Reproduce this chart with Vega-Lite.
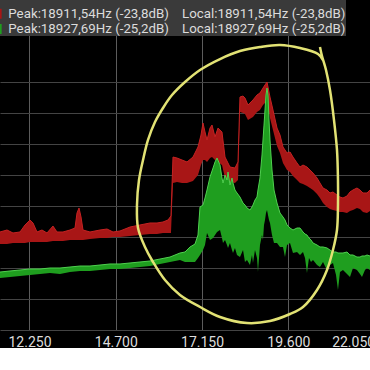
{
  "$schema": "https://vega.github.io/schema/vega-lite/v6.json",
  "width": 370,
  "height": 330,
  "autosize": {"type": "none"},
  "padding": {"left": 0, "top": 0, "right": 0, "bottom": 18},
  "background": "#000000",
  "config": {"view": {"stroke": null}, "font": "Roboto"},
  "datasets": {
    "spec": [
      {"s":"a","f":11413,"t":-49.19,"b":-51.13},
      {"s":"a","f":11612,"t":-48.87,"b":-51.13},
      {"s":"a","f":11782,"t":-49.35,"b":-50.97},
      {"s":"a","f":11981,"t":-49.19,"b":-50.97},
      {"s":"a","f":12123,"t":-48.06,"b":-50.97},
      {"s":"a","f":12265,"t":-47.26,"b":-50.81},
      {"s":"a","f":12350,"t":-47.74,"b":-50.81},
      {"s":"a","f":12463,"t":-49.19,"b":-50.81},
      {"s":"a","f":12605,"t":-48.87,"b":-50.81},
      {"s":"a","f":12747,"t":-49.35,"b":-50.81},
      {"s":"a","f":12917,"t":-48.23,"b":-50.64},
      {"s":"a","f":13031,"t":-49.19,"b":-50.64},
      {"s":"a","f":13201,"t":-49.19,"b":-50.64},
      {"s":"a","f":13400,"t":-48.87,"b":-50.48},
      {"s":"a","f":13542,"t":-48.55,"b":-50.48},
      {"s":"a","f":13599,"t":-46.13,"b":-50.48},
      {"s":"a","f":13656,"t":-45.32,"b":-50.48},
      {"s":"a","f":13713,"t":-46.77,"b":-50.48},
      {"s":"a","f":13769,"t":-48.87,"b":-50.48},
      {"s":"a","f":13968,"t":-49.19,"b":-50.32},
      {"s":"a","f":14252,"t":-48.87,"b":-50.16},
      {"s":"a","f":14451,"t":-48.71,"b":-50.16},
      {"s":"a","f":14621,"t":-49.19,"b":-50.00},
      {"s":"a","f":14820,"t":-49.03,"b":-50.00},
      {"s":"a","f":15104,"t":-48.39,"b":-49.84},
      {"s":"a","f":15387,"t":-48.06,"b":-49.68},
      {"s":"a","f":15671,"t":-47.74,"b":-49.52},
      {"s":"a","f":15870,"t":-47.74,"b":-49.52},
      {"s":"a","f":16040,"t":-47.58,"b":-49.35},
      {"s":"a","f":16182,"t":-47.26,"b":-49.35},
      {"s":"a","f":16267,"t":-46.61,"b":-49.35},
      {"s":"a","f":16324,"t":-37.10,"b":-41.29},
      {"s":"a","f":16438,"t":-37.26,"b":-41.13},
      {"s":"a","f":16580,"t":-37.58,"b":-41.29},
      {"s":"a","f":16722,"t":-37.90,"b":-41.29},
      {"s":"a","f":16892,"t":-37.10,"b":-40.97},
      {"s":"a","f":17034,"t":-35.48,"b":-40.00},
      {"s":"a","f":17119,"t":-33.55,"b":-38.39},
      {"s":"a","f":17176,"t":-31.61,"b":-37.58},
      {"s":"a","f":17233,"t":-33.06,"b":-37.58},
      {"s":"a","f":17290,"t":-34.35,"b":-37.90},
      {"s":"a","f":17375,"t":-32.42,"b":-37.26},
      {"s":"a","f":17432,"t":-31.94,"b":-37.10},
      {"s":"a","f":17517,"t":-33.87,"b":-37.58},
      {"s":"a","f":17602,"t":-32.42,"b":-37.90},
      {"s":"a","f":17715,"t":-33.06,"b":-38.39},
      {"s":"a","f":17801,"t":-37.10,"b":-40.48},
      {"s":"a","f":17942,"t":-38.71,"b":-41.13},
      {"s":"a","f":18084,"t":-38.87,"b":-41.29},
      {"s":"a","f":18170,"t":-37.90,"b":-40.81},
      {"s":"a","f":18226,"t":-27.42,"b":-29.84},
      {"s":"a","f":18312,"t":-27.26,"b":-30.00},
      {"s":"a","f":18368,"t":-27.58,"b":-30.16},
      {"s":"a","f":18453,"t":-28.71,"b":-31.13},
      {"s":"a","f":18595,"t":-27.90,"b":-30.65},
      {"s":"a","f":18709,"t":-27.10,"b":-29.84},
      {"s":"a","f":18794,"t":-26.77,"b":-29.52},
      {"s":"a","f":18879,"t":-25.97,"b":-28.71},
      {"s":"a","f":18936,"t":-25.48,"b":-28.39},
      {"s":"a","f":18993,"t":-25.00,"b":-27.90},
      {"s":"a","f":19078,"t":-27.42,"b":-30.81},
      {"s":"a","f":19163,"t":-29.52,"b":-32.74},
      {"s":"a","f":19277,"t":-32.42,"b":-35.32},
      {"s":"a","f":19362,"t":-33.55,"b":-36.45},
      {"s":"a","f":19447,"t":-35.48,"b":-38.06},
      {"s":"a","f":19561,"t":-36.45,"b":-39.19},
      {"s":"a","f":19646,"t":-36.29,"b":-39.52},
      {"s":"a","f":19731,"t":-37.10,"b":-40.16},
      {"s":"a","f":19845,"t":-38.06,"b":-40.81},
      {"s":"a","f":19930,"t":-38.71,"b":-41.29},
      {"s":"a","f":20015,"t":-38.39,"b":-41.45},
      {"s":"a","f":20128,"t":-38.71,"b":-41.77},
      {"s":"a","f":20214,"t":-39.19,"b":-42.10},
      {"s":"a","f":20299,"t":-39.68,"b":-42.42},
      {"s":"a","f":20413,"t":-40.48,"b":-43.06},
      {"s":"a","f":20497,"t":-41.29,"b":-43.71},
      {"s":"a","f":20583,"t":-42.10,"b":-44.52},
      {"s":"a","f":20696,"t":-42.42,"b":-45.16},
      {"s":"a","f":20781,"t":-42.90,"b":-45.48},
      {"s":"a","f":20866,"t":-42.74,"b":-45.65},
      {"s":"a","f":20980,"t":-43.23,"b":-45.81},
      {"s":"a","f":21065,"t":-43.55,"b":-45.97},
      {"s":"a","f":21150,"t":-43.71,"b":-45.97},
      {"s":"a","f":21264,"t":-43.39,"b":-46.13},
      {"s":"a","f":21349,"t":-42.74,"b":-45.81},
      {"s":"a","f":21434,"t":-42.42,"b":-45.65},
      {"s":"a","f":21547,"t":-42.10,"b":-45.32},
      {"s":"a","f":21633,"t":-42.42,"b":-45.48},
      {"s":"a","f":21718,"t":-42.90,"b":-45.97},
      {"s":"a","f":21832,"t":-42.90,"b":-46.13},
      {"s":"a","f":21917,"t":-42.42,"b":-45.81},
      {"s":"a","f":22059,"t":-42.74,"b":-45.97},
      {"s":"a","f":22201,"t":-42.42,"b":-45.65},
      {"s":"b","f":11413,"t":-55.65,"b":-56.61},
      {"s":"b","f":11697,"t":-55.48,"b":-56.45},
      {"s":"b","f":11981,"t":-55.32,"b":-56.29},
      {"s":"b","f":12265,"t":-55.16,"b":-56.13},
      {"s":"b","f":12549,"t":-55.16,"b":-55.97},
      {"s":"b","f":12832,"t":-55.00,"b":-55.81},
      {"s":"b","f":13116,"t":-55.00,"b":-55.97},
      {"s":"b","f":13400,"t":-54.84,"b":-55.65},
      {"s":"b","f":13684,"t":-54.68,"b":-55.48},
      {"s":"b","f":13968,"t":-54.68,"b":-55.48},
      {"s":"b","f":14252,"t":-54.52,"b":-55.32},
      {"s":"b","f":14536,"t":-54.35,"b":-55.16},
      {"s":"b","f":14820,"t":-54.35,"b":-55.16},
      {"s":"b","f":15104,"t":-54.19,"b":-55.00},
      {"s":"b","f":15387,"t":-54.03,"b":-54.84},
      {"s":"b","f":15671,"t":-53.87,"b":-54.68},
      {"s":"b","f":15955,"t":-53.55,"b":-54.35},
      {"s":"b","f":16239,"t":-53.23,"b":-54.03},
      {"s":"b","f":16523,"t":-52.58,"b":-53.71},
      {"s":"b","f":16665,"t":-52.42,"b":-54.03},
      {"s":"b","f":16807,"t":-51.61,"b":-54.03},
      {"s":"b","f":16949,"t":-51.13,"b":-54.03},
      {"s":"b","f":17034,"t":-49.68,"b":-53.39},
      {"s":"b","f":17091,"t":-45.16,"b":-52.90},
      {"s":"b","f":17176,"t":-44.84,"b":-52.10},
      {"s":"b","f":17233,"t":-43.71,"b":-51.29},
      {"s":"b","f":17290,"t":-42.42,"b":-49.35},
      {"s":"b","f":17375,"t":-40.32,"b":-50.48},
      {"s":"b","f":17461,"t":-38.87,"b":-50.16},
      {"s":"b","f":17517,"t":-37.90,"b":-49.68},
      {"s":"b","f":17574,"t":-37.26,"b":-49.19},
      {"s":"b","f":17659,"t":-38.39,"b":-48.87},
      {"s":"b","f":17715,"t":-40.48,"b":-50.16},
      {"s":"b","f":17744,"t":-41.29,"b":-50.97},
      {"s":"b","f":17801,"t":-40.00,"b":-50.48},
      {"s":"b","f":17857,"t":-40.81,"b":-51.29},
      {"s":"b","f":17886,"t":-39.52,"b":-51.77},
      {"s":"b","f":17942,"t":-41.61,"b":-50.97},
      {"s":"b","f":17999,"t":-40.48,"b":-52.10},
      {"s":"b","f":18028,"t":-41.29,"b":-52.58},
      {"s":"b","f":18084,"t":-42.42,"b":-51.77},
      {"s":"b","f":18141,"t":-42.90,"b":-52.90},
      {"s":"b","f":18226,"t":-43.55,"b":-53.23},
      {"s":"b","f":18312,"t":-44.52,"b":-52.10},
      {"s":"b","f":18368,"t":-44.84,"b":-54.03},
      {"s":"b","f":18425,"t":-45.32,"b":-53.71},
      {"s":"b","f":18510,"t":-45.65,"b":-54.52},
      {"s":"b","f":18567,"t":-45.16,"b":-52.90},
      {"s":"b","f":18595,"t":-44.84,"b":-54.19},
      {"s":"b","f":18652,"t":-44.03,"b":-52.10},
      {"s":"b","f":18709,"t":-43.55,"b":-53.39},
      {"s":"b","f":18737,"t":-42.42,"b":-55.65},
      {"s":"b","f":18794,"t":-40.48,"b":-51.29},
      {"s":"b","f":18851,"t":-36.77,"b":-49.68},
      {"s":"b","f":18879,"t":-34.35,"b":-50.48},
      {"s":"b","f":18908,"t":-31.94,"b":-48.06},
      {"s":"b","f":18936,"t":-29.52,"b":-47.26},
      {"s":"b","f":18964,"t":-27.10,"b":-46.13},
      {"s":"b","f":18993,"t":-25.97,"b":-45.65},
      {"s":"b","f":19021,"t":-27.10,"b":-46.45},
      {"s":"b","f":19050,"t":-31.13,"b":-47.26},
      {"s":"b","f":19078,"t":-34.35,"b":-47.74},
      {"s":"b","f":19135,"t":-39.19,"b":-49.68},
      {"s":"b","f":19192,"t":-42.42,"b":-50.97},
      {"s":"b","f":19277,"t":-44.52,"b":-50.97},
      {"s":"b","f":19362,"t":-46.13,"b":-51.61},
      {"s":"b","f":19447,"t":-46.77,"b":-51.61},
      {"s":"b","f":19504,"t":-47.26,"b":-53.23},
      {"s":"b","f":19561,"t":-48.06,"b":-51.29},
      {"s":"b","f":19646,"t":-48.55,"b":-50.97},
      {"s":"b","f":19731,"t":-48.87,"b":-52.58},
      {"s":"b","f":19845,"t":-48.55,"b":-52.42},
      {"s":"b","f":19930,"t":-48.55,"b":-52.90},
      {"s":"b","f":20015,"t":-49.19,"b":-52.42},
      {"s":"b","f":20072,"t":-49.52,"b":-53.39},
      {"s":"b","f":20128,"t":-49.68,"b":-55.81},
      {"s":"b","f":20185,"t":-50.16,"b":-53.39},
      {"s":"b","f":20242,"t":-50.48,"b":-54.03},
      {"s":"b","f":20299,"t":-50.97,"b":-53.71},
      {"s":"b","f":20413,"t":-51.29,"b":-54.52},
      {"s":"b","f":20497,"t":-51.61,"b":-54.84},
      {"s":"b","f":20583,"t":-51.61,"b":-54.03},
      {"s":"b","f":20696,"t":-51.77,"b":-55.32},
      {"s":"b","f":20781,"t":-52.10,"b":-54.52},
      {"s":"b","f":20866,"t":-52.42,"b":-54.19},
      {"s":"b","f":20952,"t":-52.42,"b":-56.13},
      {"s":"b","f":21008,"t":-52.58,"b":-58.55},
      {"s":"b","f":21065,"t":-52.58,"b":-55.65},
      {"s":"b","f":21150,"t":-52.58,"b":-55.32},
      {"s":"b","f":21264,"t":-52.42,"b":-55.97},
      {"s":"b","f":21349,"t":-52.90,"b":-56.45},
      {"s":"b","f":21434,"t":-52.90,"b":-55.00},
      {"s":"b","f":21547,"t":-53.23,"b":-55.32},
      {"s":"b","f":21633,"t":-53.23,"b":-55.97},
      {"s":"b","f":21690,"t":-53.06,"b":-56.45},
      {"s":"b","f":21775,"t":-53.06,"b":-55.32},
      {"s":"b","f":21832,"t":-52.90,"b":-55.00},
      {"s":"b","f":21917,"t":-53.06,"b":-55.32},
      {"s":"b","f":22059,"t":-53.23,"b":-55.48},
      {"s":"b","f":22201,"t":-53.06,"b":-55.32}
    ],
    "loop": [
      {"i":1,"f":20497,"d":-19.35},
      {"i":2,"f":20554,"d":-20.81},
      {"i":3,"f":20668,"d":-23.06},
      {"i":4,"f":20781,"d":-26.29},
      {"i":5,"f":20895,"d":-31.13},
      {"i":6,"f":20980,"d":-35.97},
      {"i":7,"f":21008,"d":-40.81},
      {"i":8,"f":21008,"d":-44.84},
      {"i":9,"f":20980,"d":-48.87},
      {"i":10,"f":20866,"d":-52.10},
      {"i":11,"f":20696,"d":-55.32},
      {"i":12,"f":20413,"d":-58.55},
      {"i":13,"f":20015,"d":-61.29},
      {"i":14,"f":19646,"d":-62.42},
      {"i":15,"f":19078,"d":-63.55},
      {"i":16,"f":18425,"d":-63.87},
      {"i":17,"f":17659,"d":-62.90},
      {"i":18,"f":17091,"d":-61.29},
      {"i":19,"f":16523,"d":-59.35},
      {"i":20,"f":16097,"d":-56.94},
      {"i":21,"f":15757,"d":-54.03},
      {"i":22,"f":15529,"d":-51.61},
      {"i":23,"f":15331,"d":-48.55},
      {"i":24,"f":15302,"d":-44.84},
      {"i":25,"f":15359,"d":-40.81},
      {"i":26,"f":15473,"d":-37.58},
      {"i":27,"f":15615,"d":-34.35},
      {"i":28,"f":15813,"d":-31.45},
      {"i":29,"f":16040,"d":-29.19},
      {"i":30,"f":16296,"d":-27.10},
      {"i":31,"f":16665,"d":-25.00},
      {"i":32,"f":17091,"d":-23.06},
      {"i":33,"f":17659,"d":-21.29},
      {"i":34,"f":18226,"d":-20.00},
      {"i":35,"f":18794,"d":-19.35},
      {"i":36,"f":19362,"d":-19.03},
      {"i":37,"f":19930,"d":-19.52},
      {"i":38,"f":20441,"d":-20.48},
      {"i":39,"f":20583,"d":-21.45}
    ]
  },
  "layer": [
    {
      "data": {"name": "spec"},
      "mark": {"type": "area", "opacity": 1},
      "encoding": {
        "x": {
          "field": "f", "type": "quantitative",
          "scale": {"domain": [11413, 22201], "range": [0, 380], "nice": false, "zero": false},
          "axis": {
            "values": [12250, 14700, 17150, 19600, 22050],
            "labelExpr": "replace(format(datum.value, ','), ',', '.')",
            "labelColor": "#dddddd", "labelFont": "Roboto", "labelFontSize": 14,
            "labelAlign": {"condition": {"test": "datum.value == 22050", "value": "right"}, "value": "center"},
            "labelPadding": 5, "ticks": false, "tickSize": 0, "domain": false, "title": null,
            "labelFlush": false, "labelOverlap": false,
            "grid": true, "gridColor": "#5c5c5c", "gridWidth": 1
          }
        },
        "y": {
          "field": "t", "type": "quantitative", "stack": null,
          "scale": {"domain": [-65, -11.77], "nice": false, "zero": false},
          "axis": {
            "values": [-65, -60, -55, -50, -45, -40, -35, -30, -25],
            "labels": false, "ticks": false, "domain": false, "title": null,
            "grid": true, "gridColor": "#444444", "gridWidth": 1
          }
        },
        "y2": {"field": "b"},
        "color": {
          "field": "s", "type": "nominal",
          "scale": {"domain": ["a", "b"], "range": ["#a81616", "#1f9e1f"]},
          "legend": {
            "title": "\u00a0", "titleFontSize": 1, "titlePadding": 6,
            "orient": "none", "legendX": -10, "legendY": 0,
            "direction": "vertical", "fillColor": "#3a3a3a", "padding": 0,
            "symbolType": "square", "symbolSize": 100, "symbolStrokeWidth": 0, "symbolOpacity": 1,
            "labelColor": "#dcdcdc", "labelFont": "Roboto", "labelFontSize": 13.3,
            "labelLimit": 600, "labelOffset": 5, "rowPadding": 1.4,
            "labelExpr": "datum.value == 'a' ? 'Peak:18911,54Hz (-23,8dB)\u00a0\u00a0\u00a0 Local:18911,54Hz (-23,8dB)' : 'Peak:18927,69Hz (-25,2dB)\u00a0\u00a0\u00a0 Local:18927,69Hz (-25,2dB)'"
          }
        }
      }
    },
    {
      "data": {"name": "spec"},
      "mark": {"type": "line", "strokeWidth": 1},
      "encoding": {
        "x": {"field": "f", "type": "quantitative", "scale": {"domain": [11413, 22201], "range": [0, 380], "nice": false, "zero": false}},
        "y": {"field": "t", "type": "quantitative", "scale": {"domain": [-65, -11.77], "nice": false, "zero": false}},
        "stroke": {
          "field": "s", "type": "nominal",
          "scale": {"domain": ["a", "b"], "range": ["#c42222", "#4fd04f"]},
          "legend": null
        }
      }
    },
    {
      "data": {"name": "loop"},
      "mark": {"type": "line", "interpolate": "catmull-rom", "strokeWidth": 2.5, "color": "#e2e274"},
      "encoding": {
        "x": {"field": "f", "type": "quantitative", "scale": {"domain": [11413, 22201], "range": [0, 380], "nice": false, "zero": false}},
        "y": {"field": "d", "type": "quantitative", "scale": {"domain": [-65, -11.77], "nice": false, "zero": false}},
        "order": {"field": "i", "type": "quantitative"}
      }
    }
  ]
}
